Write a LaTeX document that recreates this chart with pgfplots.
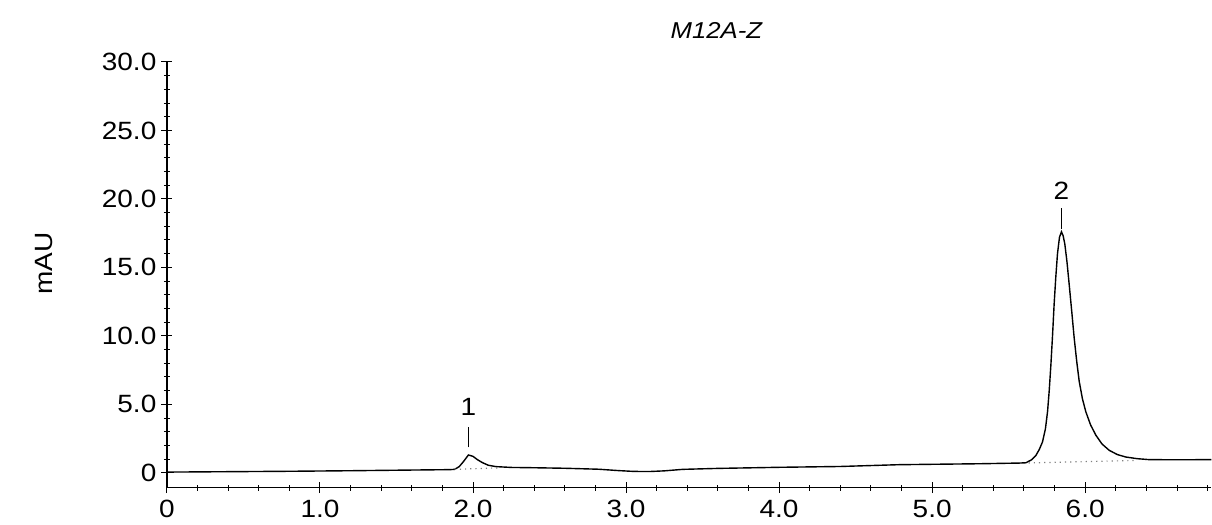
\documentclass[border=0pt]{standalone}
\usepackage{fontspec}
\setmainfont{Liberation Sans}[FakeStretch=1.12]
\usepackage{pgfplots}
\pgfplotsset{compat=1.18}
\begin{document}
\begin{tikzpicture}
\begin{axis}[
  scale only axis, width=522.5pt, height=213pt,
  xmin=0, xmax=6.824, ymin=-1.09, ymax=30,
  axis lines=left, axis line style={-, line width=0.6pt},
  xtick={0,1,2,3,4,5,6}, xticklabels={0,1.0,2.0,3.0,4.0,5.0,6.0},
  ytick={0,5,10,15,20,25,30}, yticklabels={0,5.0,10.0,15.0,20.0,25.0,30.0},
  minor xtick={0.2,0.4,0.6,0.8,1.2,1.4,1.6,1.8,2.2,2.4,2.6,2.8,3.2,3.4,3.6,3.8,4.2,4.4,4.6,4.8,5.2,5.4,5.6,5.8,6.2,6.4,6.6,6.8},
  minor ytick={1,2,3,4,6,7,8,9,11,12,13,14,16,17,18,19,21,22,23,24,26,27,28,29},
  tick align=center, major tick length=5.5pt, minor tick length=3pt,
  tick style={black, line width=0.5pt},
  ticklabel style={font=\fontsize{12.5}{14}\selectfont},
  yticklabel style={xshift=1pt},
  clip=false,
]
\addplot[black, line width=0.7pt] coordinates {
(0,0.05) (0.4,0.08) (0.8,0.11) (1.2,0.15) (1.6,0.2) (1.85,0.23) (1.88,0.25)
(1.91,0.45) (1.94,0.85) (1.97,1.3) (2.00,1.2) (2.03,0.95) (2.06,0.75) (2.10,0.55)
(2.15,0.45) (2.25,0.39) (2.39,0.37) (2.6,0.33) (2.82,0.26) (2.95,0.16) (3.05,0.1)
(3.15,0.09) (3.25,0.14) (3.37,0.25) (3.6,0.32) (3.8,0.36) (4.0,0.4) (4.4,0.46)
(4.78,0.59) (5.0,0.62) (5.31,0.66) (5.57,0.71)
(5.612,0.73) (5.65,0.95) (5.678,1.27) (5.70,1.7) (5.721,2.25) (5.74,3.2) (5.754,4.46)
(5.765,6.0) (5.776,7.9) (5.787,10.1) (5.797,12.3) (5.808,14.3) (5.819,16.0) (5.832,17.2)
(5.845,17.6) (5.856,17.3) (5.867,16.7) (5.881,15.4) (5.895,13.8) (5.912,11.8) (5.928,9.85)
(5.945,8.1) (5.961,6.67) (5.982,5.4) (6.004,4.46) (6.035,3.5) (6.070,2.74) (6.11,2.1)
(6.157,1.64) (6.21,1.33) (6.266,1.15) (6.34,1.03) (6.418,0.96) (6.60,0.95) (6.824,0.96)
};
\addplot[gray, dotted, line width=0.6pt] coordinates {(1.88,0.25) (2.17,0.36)};
\addplot[gray, dotted, line width=0.6pt] coordinates {(5.63,0.72) (6.33,0.9)};
\draw[black, line width=0.5pt] (axis cs:1.97,1.85) -- (axis cs:1.97,3.35);
\node[font=\fontsize{12.5}{14}\selectfont] at (axis cs:1.97,4.8) {1};
\draw[black, line width=0.5pt] (axis cs:5.845,17.8) -- (axis cs:5.845,19.3);
\node[font=\fontsize{12.5}{14}\selectfont] at (axis cs:5.845,20.6) {2};
\node[font=\fontsize{11.5}{13}\selectfont\itshape] at (axis cs:3.59,32.3) {M12A-Z};
\node[font=\fontsize{12.5}{14}\selectfont, rotate=90] at (axis cs:-0.80,15.3) {mAU};
\coordinate (SW) at (rel axis cs:0,0);
\coordinate (NE) at (rel axis cs:1,1);
\end{axis}
\path ([shift={(-83.5pt,-15pt)}]SW) rectangle ([shift={(0pt,31pt)}]NE);
\end{tikzpicture}
\end{document}
